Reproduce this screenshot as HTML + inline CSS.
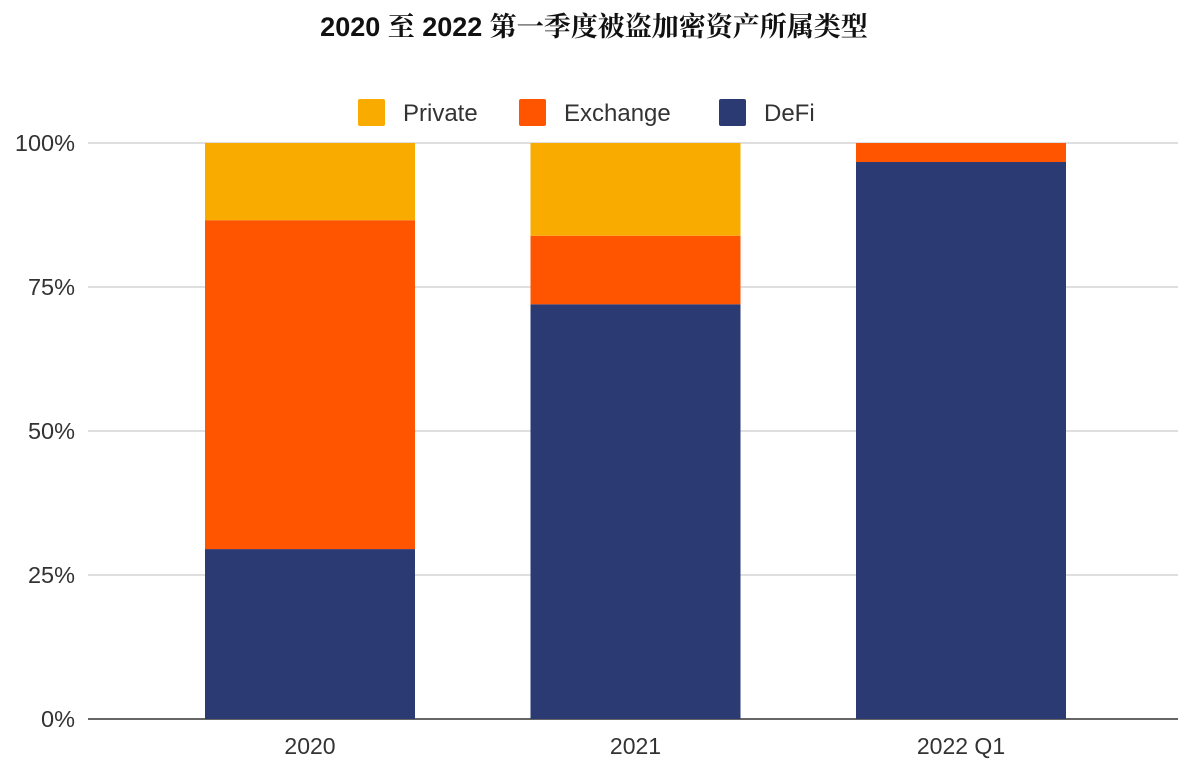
<!DOCTYPE html>
<html><head><meta charset="utf-8"><style>
body{margin:0;background:#fff;width:1188px;height:772px;overflow:hidden}
svg text{font-family:"Liberation Sans","Noto Sans CJK SC",sans-serif}
</style></head><body>
<svg width="1188" height="772">
<text x="594" y="36" text-anchor="middle" font-size="27" font-weight="bold" fill="#111" style='font-family:"Liberation Sans","Noto Serif CJK SC",serif'>2020 至 2022 第一季度被盗加密资产所属类型</text>
<g id="legend"></g>
<g id="grid"></g>
<g id="bars"></g>
<g id="xlabels"></g>
</svg>
<script>
const categories=["2020","2021","2022 Q1"];
const defi=[29.5,72.0,96.7];
const exchange=[57.1,11.9,3.3];
const privateV=[13.4,16.1,0];
const yTicks=[0,25,50,75,100];
const seriesNames=["Private","Exchange","DeFi"];
const colors={DeFi:"#2b3a73",Exchange:"#ff5500",Private:"#f9ab00"};
const ns="http://www.w3.org/2000/svg";
const y0=719,yTop=143,plotL=88,plotR=1178;
const y=v=>y0-(v/100)*(y0-yTop);
const barW=210,centers=[310,635,961];
const xc=i=>centers[0]+i*((centers[2]-centers[0])/(categories.length-1));
function mk(t,a,p){const e=document.createElementNS(ns,t);for(const k in a)e.setAttribute(k,a[k]);p.appendChild(e);return e;}
const grid=document.getElementById('grid');
yTicks.forEach(t=>{
 const l=mk('line',{x1:plotL,x2:plotR,y1:y(t),y2:y(t),stroke:t===0?'#333':'#ccc','stroke-width':t===0?1.5:1.3},grid);
 
 
 const tx=mk('text',{x:75,y:y(t)+8,'text-anchor':'end','font-size':23.5,fill:'#333'},grid);
 tx.textContent=t+'%';
 
 
});
const bars=document.getElementById('bars');
const xl=document.getElementById('xlabels');
categories.forEach((c,i)=>{
 let base=0;
 [["DeFi",defi[i]],["Exchange",exchange[i]],["Private",privateV[i]]].forEach(([n,v])=>{
  if(v<=0)return;
  const r=mk('rect',{x:xc(i)-barW/2,y:y(base+v),width:barW,height:y(base)-y(base+v),fill:colors[n]},bars);
  
  
  base+=v;
 });
 const t=mk('text',{x:xc(i),y:754,'text-anchor':'middle','font-size':23,fill:'#333'},xl);
 t.textContent=c;
 
 
});
const lg=document.getElementById('legend');
const lx=[358,519,719];
seriesNames.forEach((n,i)=>{
 const r=mk('rect',{x:lx[i],y:99,width:27,height:27,rx:2,fill:colors[n]},lg);
 
 
 const t=mk('text',{x:lx[i]+45,y:121,'font-size':24,fill:'#333'},lg);
 t.textContent=n;
 
 
});
</script>
</body></html>
